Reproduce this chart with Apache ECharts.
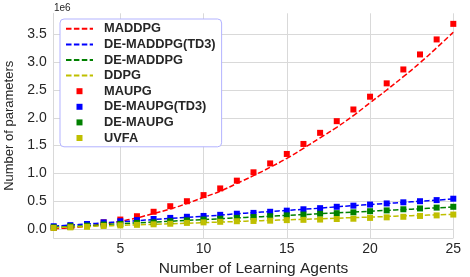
<!DOCTYPE html>
<html>
<head>
<meta charset="utf-8">
<script src="https://cdn.jsdelivr.net/npm/echarts@6/dist/echarts.min.js"></script>
<style>
html,body{margin:0;padding:0;background:#fff;}
#chart{width:470px;height:277px;}
</style>
</head>
<body>
<div id="chart"></div>
<script>
// Number of learning agents
var agents = [1,2,3,4,5,6,7,8,9,10,11,12,13,14,15,16,17,18,19,20,21,22,23,24,25];

// Measured parameters (x 1e6) - scatter points
var maupg      = [0.02,0.04,0.07,0.12,0.17,0.23,0.31,0.41,0.50,0.61,0.73,0.87,1.02,1.18,1.35,1.53,1.73,1.94,2.15,2.38,2.62,2.87,3.14,3.41,3.69];
var deMaupgTD3 = [0.05,0.07,0.09,0.12,0.14,0.16,0.18,0.20,0.22,0.235,0.255,0.275,0.29,0.31,0.33,0.355,0.375,0.40,0.42,0.44,0.46,0.48,0.50,0.52,0.545];
var deMaupg    = [0.03,0.05,0.06,0.08,0.09,0.11,0.12,0.14,0.155,0.17,0.185,0.20,0.215,0.23,0.245,0.26,0.275,0.285,0.30,0.32,0.335,0.355,0.37,0.385,0.40];
var uvfa       = [0.02,0.03,0.04,0.055,0.065,0.075,0.085,0.095,0.11,0.12,0.13,0.14,0.145,0.15,0.16,0.165,0.17,0.18,0.185,0.20,0.21,0.22,0.235,0.245,0.26];

// Fitted curves (x 1e6) - dashed lines
var maddpg      = [0.01,0.02,0.05,0.09,0.14,0.20,0.28,0.36,0.46,0.57,0.68,0.82,0.96,1.11,1.27,1.45,1.64,1.83,2.04,2.27,2.50,2.74,2.99,3.26,3.54];
var deMaddpgTD3 = [0.05,0.07,0.09,0.11,0.13,0.15,0.17,0.19,0.21,0.23,0.25,0.275,0.295,0.315,0.335,0.355,0.375,0.40,0.42,0.44,0.46,0.48,0.50,0.52,0.54];
var deMaddpg    = [0.03,0.045,0.06,0.08,0.095,0.11,0.125,0.14,0.155,0.17,0.185,0.20,0.215,0.23,0.245,0.26,0.275,0.29,0.305,0.32,0.335,0.35,0.365,0.38,0.395];
var ddpg        = [0.025,0.035,0.045,0.055,0.065,0.075,0.085,0.095,0.105,0.115,0.125,0.135,0.145,0.155,0.165,0.175,0.185,0.195,0.205,0.215,0.225,0.235,0.245,0.255,0.265];

var lineNames = ['MADDPG','DE-MADDPG(TD3)','DE-MADDPG','DDPG'];
var pointNames = ['MAUPG','DE-MAUPG(TD3)','DE-MAUPG','UVFA'];
var colors = ['#ff0000','#0000ff','#008000','#bfbf00'];

function pairs(ys){ return agents.map(function(x,i){ return [x, ys[i]]; }); }

var lineData = [maddpg, deMaddpgTD3, deMaddpg, ddpg];
var pointData = [maupg, deMaupgTD3, deMaupg, uvfa];

var series = [];
lineData.forEach(function(d,i){
  series.push({
    name: lineNames[i], type:'line', data: pairs(d), smooth: true,
    symbol:'none', color: colors[i], z: 2,
    lineStyle:{color:colors[i], width:1.5, type:[5.5,2.4]}
  });
});
pointData.forEach(function(d,i){
  series.push({
    name: pointNames[i], type:'scatter', data: pairs(d),
    symbol:'rect', symbolSize:6, color: colors[i], z: 3,
    itemStyle:{color:colors[i], opacity:1}
  });
});

var legendData = lineNames.map(function(n){
  return {name:n, itemStyle:{opacity:0}};
}).concat(pointNames.map(function(n){
  return {name:n, icon:'path://M0 0H10V10H0Z'};
}));

var chart = echarts.init(document.getElementById('chart'), null, {renderer:'canvas'});
var gridColor = '#d9d9d9';
var textColor = '#262626';
chart.setOption({
  animation:false,
  backgroundColor:'#ffffff',
  grid:{left:53.7, right:16.7, top:13.3, bottom:38.7, containLabel:false, outerBoundsMode:'none'},
  xAxis:{
    type:'value', min:1, max:25, splitNumber:5,
    name:'Number of Learning Agents', nameLocation:'middle', nameGap:13,
    nameTextStyle:{fontFamily:'Liberation Sans', fontSize:15.5, color:textColor},
    axisLine:{show:true, lineStyle:{color:gridColor, width:1}},
    axisTick:{show:false},
    axisLabel:{showMinLabel:false, fontFamily:'Liberation Sans', fontSize:14, color:textColor, margin:4},
    splitLine:{show:true, lineStyle:{color:gridColor, width:1}}
  },
  yAxis:{
    type:'value', min:-0.167, max:3.88, splitNumber:8,
    name:'Number of parameters', nameLocation:'middle', nameGap:30,
    nameTextStyle:{fontFamily:'Liberation Sans', fontSize:13, color:textColor},
    axisLine:{show:true, lineStyle:{color:gridColor, width:1}},
    axisTick:{show:false},
    axisLabel:{showMinLabel:false, showMaxLabel:false, fontFamily:'Liberation Sans', fontSize:14, color:textColor, margin:7,
      formatter:function(v){ return v.toFixed(1); }},
    splitLine:{show:true, showMaxLine:false, lineStyle:{color:gridColor, width:1}}
  },
  legend:{
    orient:'vertical', left:60, top:19,
    backgroundColor:'#ffffff', borderColor:'#b3b3ff', borderWidth:1, borderRadius:4,
    padding:[2,6,1,5], itemGap:0, itemWidth:27, itemHeight:6,
    textStyle:{fontFamily:'Liberation Sans', fontWeight:'bold', fontSize:12.8, color:textColor, lineHeight:15.6, padding:[0,0,0,6]},
    data: legendData
  },
  graphic:[{
    type:'text', left:54, top:3,
    style:{text:'1e6', font:'10px "Liberation Sans"', fill:textColor}
  }],
  series: series
});
</script>
</body>
</html>
